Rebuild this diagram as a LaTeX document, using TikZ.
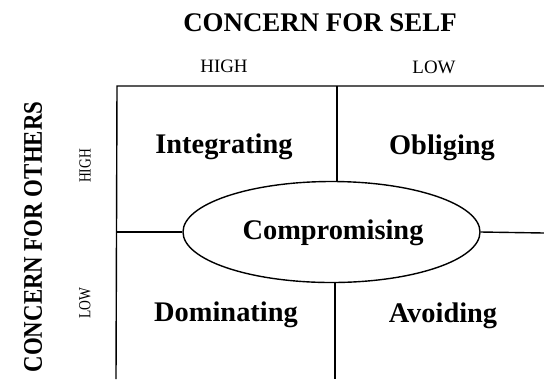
\documentclass[tikz,border=0pt]{standalone}
\usepackage{fontspec}
\setmainfont{Liberation Serif}
\usetikzlibrary{shapes.geometric}
\tikzset{
  style/.style={font=\fontsize{28.5}{30}\selectfont\bfseries, inner sep=0pt},
  level/.style={font=\fontsize{19}{21}\selectfont, inner sep=0pt},
  axis/.style={font=\fontsize{27}{29}\selectfont\bfseries, inner sep=0pt},
  grid/.style={line width=1.4bp}
}
\begin{document}
\begin{tikzpicture}[x=1bp, y=-1bp]
\useasboundingbox (0,0) rectangle (544,379);
\clip (0,0) rectangle (544,379);
% axis titles
\node[axis] (self) at (320,23){CONCERN FOR SELF};
\node[axis, rotate=90] (others) at (33,237){\scalebox{0.85}[1]{CONCERN FOR OTHERS}};
\node[level] (shigh) at (224,66){HIGH};
\node[level] (slow) at (434,67){LOW};
\node[level, rotate=90, font=\fontsize{17}{19}\selectfont] (ohigh) at (85,166){\scalebox{0.8}[1]{HIGH}};
\node[level, rotate=90, font=\fontsize{17}{19}\selectfont] (olow) at (85,303){\scalebox{0.8}[1]{LOW}};
% grid corners
\coordinate (tl) at (117,86);
\coordinate (tr) at (544,86);
\coordinate (bl) at (116,379);
\coordinate (tm) at (337,86);
\coordinate (bm) at (335,379);
\coordinate (ml) at (117,232);
\coordinate (mr) at (544,233);
\draw[grid](tr) -- (tl) -- (bl);
% styles
\node[ellipse, draw, grid, minimum width=297bp, minimum height=101bp, inner sep=0pt] (comp) at (331.5,232){};
\node[style] (compl) at (333,233){Compromising};
\node[style] (integ) at (224,147){Integrating};
\node[style] (oblig) at (442,148){Obliging};
\node[style] (domin) at (226,315){Dominating};
\node[style] (avoid) at (443,316){Avoiding};
\draw[grid](tm) -- (tm |- comp.north);
\draw[grid](bm |- comp.south) -- (bm);
\draw[grid](ml) -- (comp.west);
\draw[grid](comp.east) -- (mr);
\end{tikzpicture}
\end{document}
